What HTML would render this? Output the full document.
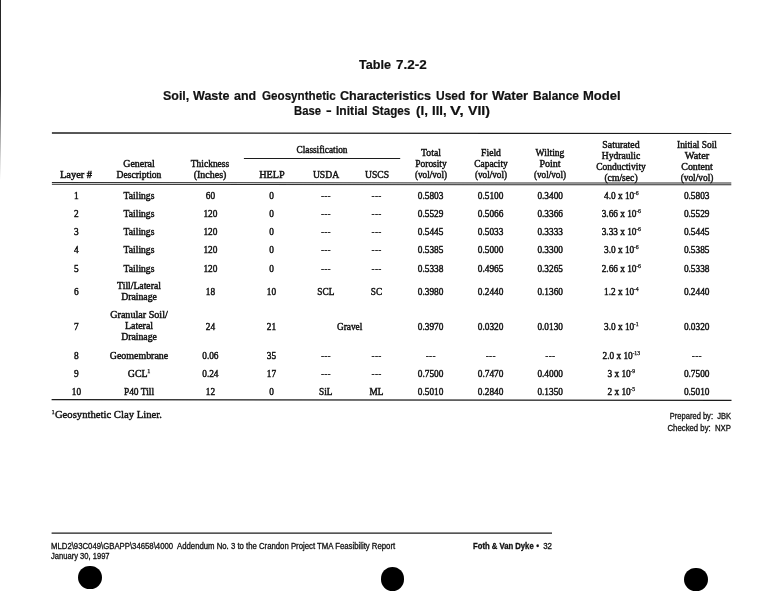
<!DOCTYPE html>
<html><head><meta charset="utf-8"><title>Table 7.2-2</title>
<style>
html,body{margin:0;padding:0;background:#fff;}
body{width:779px;height:600px;position:relative;overflow:hidden;color:#111;}
#pg{position:absolute;left:0;top:0;width:779px;height:600px;filter:blur(0.3px);}
.t{position:absolute;white-space:nowrap;line-height:12px;height:12px;}
.s{font-family:"Liberation Serif", serif;-webkit-text-stroke:0.42px #111;}
.b{font-family:"Liberation Sans", sans-serif;font-weight:bold;-webkit-text-stroke:0.2px #111;}
.n{font-family:"Liberation Sans", sans-serif;-webkit-text-stroke:0.3px #111;}
.d{-webkit-text-stroke:0.15px #111;letter-spacing:0.25px;margin-right:-0.25px;}
.c{transform:translateX(-50%);text-align:center;}
.r{transform:translateX(-100%);text-align:right;}
sup{font-size:62%;line-height:0;vertical-align:baseline;position:relative;top:-0.62em;margin-left:-0.4px;-webkit-text-stroke:0.25px #111;}
.ln{position:absolute;background:#1a1a1a;}
.dot{position:absolute;border-radius:50%;background:#000;}
</style></head><body><div id="pg">

<div class="ln" style="left:0;top:0;width:1.4px;height:180px;background:linear-gradient(to bottom,#222 0,#333 90px,#999 130px,#ddd 160px,#fff 180px)"></div>
<svg width="779" height="600" viewBox="0 0 779 600" style="position:absolute;left:0;top:0"><polygon points="51.90,132.20 731.30,132.97 731.30,134.03 51.90,133.80" fill="#1c1c1c"/><polygon points="243.90,157.88 400.20,157.88 400.20,158.93 243.90,158.93" fill="#1c1c1c"/><polygon points="51.90,182.10 731.30,182.60 731.30,183.60 51.90,183.10" fill="#2a2a2a"/><polygon points="51.90,183.85 731.30,184.35 731.30,185.35 51.90,184.85" fill="#2a2a2a"/><polygon points="51.60,398.95 731.50,399.68 731.50,400.93 51.60,400.25" fill="#1c1c1c"/><polygon points="51.60,532.62 552.00,532.62 552.00,533.78 51.60,533.78" fill="#1c1c1c"/></svg>
<div class="dot" style="left:78.2px;top:565.5px;width:23.5px;height:23.5px"></div>
<div class="dot" style="left:380.9px;top:567.0px;width:23.5px;height:23.5px"></div>
<div class="dot" style="left:684.0px;top:567.6px;width:23.5px;height:23.5px"></div>
<div class="t b " style="left:358.8px;top:59.00px;font-size:13.60px;transform:scaleX(0.928);transform-origin:left center;">Table</div>
<div class="t b " style="left:395.8px;top:59.00px;font-size:13.60px;transform:scaleX(0.991);transform-origin:left center;">7.2-2</div>
<div class="t b " style="left:163.2px;top:90.00px;font-size:13.60px;transform:scaleX(0.916);transform-origin:left center;">Soil,</div>
<div class="t b " style="left:193.4px;top:90.00px;font-size:13.60px;transform:scaleX(0.923);transform-origin:left center;">Waste</div>
<div class="t b " style="left:234.1px;top:90.00px;font-size:13.60px;transform:scaleX(0.914);transform-origin:left center;">and</div>
<div class="t b " style="left:261.6px;top:90.00px;font-size:13.60px;transform:scaleX(0.856);transform-origin:left center;">Geosynthetic</div>
<div class="t b " style="left:340.3px;top:90.00px;font-size:13.60px;transform:scaleX(0.926);transform-origin:left center;">Characteristics</div>
<div class="t b " style="left:435.8px;top:90.00px;font-size:13.60px;transform:scaleX(0.884);transform-origin:left center;">Used</div>
<div class="t b " style="left:470.4px;top:90.00px;font-size:13.60px;transform:scaleX(0.971);transform-origin:left center;">for</div>
<div class="t b " style="left:492.2px;top:90.00px;font-size:13.60px;transform:scaleX(0.971);transform-origin:left center;">Water</div>
<div class="t b " style="left:532.6px;top:90.00px;font-size:13.60px;transform:scaleX(0.882);transform-origin:left center;">Balance</div>
<div class="t b " style="left:583.2px;top:90.00px;font-size:13.60px;transform:scaleX(0.955);transform-origin:left center;">Model</div>
<div class="t b " style="left:294.0px;top:105.00px;font-size:13.60px;transform:scaleX(0.831);transform-origin:left center;">Base</div>
<div class="t b " style="left:325.5px;top:105.00px;font-size:13.60px;transform:scaleX(1.258);transform-origin:left center;">-</div>
<div class="t b " style="left:335.6px;top:105.00px;font-size:13.60px;transform:scaleX(0.890);transform-origin:left center;">Initial</div>
<div class="t b " style="left:372.1px;top:105.00px;font-size:13.60px;transform:scaleX(0.857);transform-origin:left center;">Stages</div>
<div class="t b " style="left:415.9px;top:105.00px;font-size:13.60px;transform:scaleX(0.984);transform-origin:left center;">(I,</div>
<div class="t b " style="left:431.7px;top:105.00px;font-size:13.60px;transform:scaleX(0.966);transform-origin:left center;">III,</div>
<div class="t b " style="left:449.8px;top:105.00px;font-size:13.60px;transform:scaleX(1.197);transform-origin:left center;">V,</div>
<div class="t b " style="left:468.2px;top:105.00px;font-size:13.60px;transform:scaleX(1.040);transform-origin:left center;">VII)</div>
<div class="t s c" style="left:76.4px;top:169.00px;font-size:9.30px;transform:translateX(-50%) scaleX(1.124);transform-origin:center center;">Layer #</div>
<div class="t s c" style="left:138.8px;top:158.00px;font-size:9.30px;transform:translateX(-50%) scaleX(1.067);transform-origin:center center;">General</div>
<div class="t s c" style="left:138.8px;top:169.00px;font-size:9.30px;transform:translateX(-50%) scaleX(1.033);transform-origin:center center;">Description</div>
<div class="t s c" style="left:210.4px;top:158.00px;font-size:9.30px;transform:translateX(-50%) scaleX(1.016);transform-origin:center center;">Thickness</div>
<div class="t s c" style="left:210.4px;top:169.00px;font-size:9.30px;transform:translateX(-50%) scaleX(1.073);transform-origin:center center;">(Inches)</div>
<div class="t s c" style="left:322.2px;top:144.00px;font-size:9.30px;transform:translateX(-50%) scaleX(0.996);transform-origin:center center;">Classification</div>
<div class="t s c" style="left:271.7px;top:169.00px;font-size:9.30px;transform:translateX(-50%) scaleX(1.097);transform-origin:center center;">HELP</div>
<div class="t s c" style="left:326.0px;top:169.00px;font-size:9.30px;transform:translateX(-50%) scaleX(1.035);transform-origin:center center;">USDA</div>
<div class="t s c" style="left:376.7px;top:169.00px;font-size:9.30px;transform:translateX(-50%) scaleX(1.032);transform-origin:center center;">USCS</div>
<div class="t s c" style="left:431.4px;top:147.00px;font-size:9.30px;transform:translateX(-50%) scaleX(1.048);transform-origin:center center;">Total</div>
<div class="t s c" style="left:430.8px;top:158.00px;font-size:9.30px;transform:translateX(-50%) scaleX(1.013);transform-origin:center center;">Porosity</div>
<div class="t s c" style="left:430.5px;top:169.00px;font-size:9.30px;transform:translateX(-50%) scaleX(0.986);transform-origin:center center;">(vol/vol)</div>
<div class="t s c" style="left:490.5px;top:147.00px;font-size:9.30px;transform:translateX(-50%) scaleX(1.035);transform-origin:center center;">Field</div>
<div class="t s c" style="left:490.9px;top:158.00px;font-size:9.30px;transform:translateX(-50%) scaleX(1.011);transform-origin:center center;">Capacity</div>
<div class="t s c" style="left:490.5px;top:169.00px;font-size:9.30px;transform:translateX(-50%) scaleX(0.986);transform-origin:center center;">(vol/vol)</div>
<div class="t s c" style="left:550.2px;top:147.00px;font-size:9.30px;transform:translateX(-50%) scaleX(1.027);transform-origin:center center;">Wilting</div>
<div class="t s c" style="left:550.2px;top:158.00px;font-size:9.30px;transform:translateX(-50%) scaleX(1.079);transform-origin:center center;">Point</div>
<div class="t s c" style="left:550.0px;top:169.00px;font-size:9.30px;transform:translateX(-50%) scaleX(0.986);transform-origin:center center;">(vol/vol)</div>
<div class="t s c" style="left:620.7px;top:139.00px;font-size:9.30px;transform:translateX(-50%) scaleX(1.062);transform-origin:center center;">Saturated</div>
<div class="t s c" style="left:621.2px;top:150.00px;font-size:9.30px;transform:translateX(-50%) scaleX(1.030);transform-origin:center center;">Hydraulic</div>
<div class="t s c" style="left:621.0px;top:161.00px;font-size:9.30px;transform:translateX(-50%) scaleX(1.021);transform-origin:center center;">Conductivity</div>
<div class="t s c" style="left:621.2px;top:172.00px;font-size:9.30px;transform:translateX(-50%) scaleX(1.037);transform-origin:center center;">(cm/sec)</div>
<div class="t s c" style="left:696.5px;top:139.00px;font-size:9.30px;transform:translateX(-50%) scaleX(1.010);transform-origin:center center;">Initial Soil</div>
<div class="t s c" style="left:697.0px;top:150.00px;font-size:9.30px;transform:translateX(-50%) scaleX(1.115);transform-origin:center center;">Water</div>
<div class="t s c" style="left:696.6px;top:161.00px;font-size:9.30px;transform:translateX(-50%) scaleX(1.066);transform-origin:center center;">Content</div>
<div class="t s c" style="left:696.7px;top:172.00px;font-size:9.30px;transform:translateX(-50%) scaleX(1.005);transform-origin:center center;">(vol/vol)</div>
<div class="t s c" style="left:76.4px;top:190.00px;font-size:9.30px;">1</div>
<div class="t s c" style="left:138.8px;top:190.00px;font-size:9.30px;transform:translateX(-50%) scaleX(1.033);transform-origin:center center;">Tailings</div>
<div class="t s c" style="left:210.4px;top:190.00px;font-size:9.30px;">60</div>
<div class="t s c" style="left:271.5px;top:190.00px;font-size:9.30px;">0</div>
<div class="t s c" style="left:325.8px;top:190.00px;font-size:9.30px;"><span class="d">---</span></div>
<div class="t s c" style="left:376.5px;top:190.00px;font-size:9.30px;"><span class="d">---</span></div>
<div class="t s c" style="left:430.6px;top:190.00px;font-size:9.30px;">0.5803</div>
<div class="t s c" style="left:490.6px;top:190.00px;font-size:9.30px;">0.5100</div>
<div class="t s c" style="left:550.2px;top:190.00px;font-size:9.30px;">0.3400</div>
<div class="t s c" style="left:621.3px;top:190.00px;font-size:9.30px;">4.0 x 10<sup>-6</sup></div>
<div class="t s c" style="left:696.7px;top:190.00px;font-size:9.30px;">0.5803</div>
<div class="t s c" style="left:76.4px;top:208.00px;font-size:9.30px;">2</div>
<div class="t s c" style="left:138.8px;top:208.00px;font-size:9.30px;transform:translateX(-50%) scaleX(1.033);transform-origin:center center;">Tailings</div>
<div class="t s c" style="left:210.4px;top:208.00px;font-size:9.30px;">120</div>
<div class="t s c" style="left:271.5px;top:208.00px;font-size:9.30px;">0</div>
<div class="t s c" style="left:325.8px;top:208.00px;font-size:9.30px;"><span class="d">---</span></div>
<div class="t s c" style="left:376.5px;top:208.00px;font-size:9.30px;"><span class="d">---</span></div>
<div class="t s c" style="left:430.6px;top:208.00px;font-size:9.30px;">0.5529</div>
<div class="t s c" style="left:490.6px;top:208.00px;font-size:9.30px;">0.5066</div>
<div class="t s c" style="left:550.2px;top:208.00px;font-size:9.30px;">0.3366</div>
<div class="t s c" style="left:621.3px;top:208.00px;font-size:9.30px;">3.66 x 10<sup>-6</sup></div>
<div class="t s c" style="left:696.7px;top:208.00px;font-size:9.30px;">0.5529</div>
<div class="t s c" style="left:76.4px;top:226.00px;font-size:9.30px;">3</div>
<div class="t s c" style="left:138.8px;top:226.00px;font-size:9.30px;transform:translateX(-50%) scaleX(1.033);transform-origin:center center;">Tailings</div>
<div class="t s c" style="left:210.4px;top:226.00px;font-size:9.30px;">120</div>
<div class="t s c" style="left:271.5px;top:226.00px;font-size:9.30px;">0</div>
<div class="t s c" style="left:325.8px;top:226.00px;font-size:9.30px;"><span class="d">---</span></div>
<div class="t s c" style="left:376.5px;top:226.00px;font-size:9.30px;"><span class="d">---</span></div>
<div class="t s c" style="left:430.6px;top:226.00px;font-size:9.30px;">0.5445</div>
<div class="t s c" style="left:490.6px;top:226.00px;font-size:9.30px;">0.5033</div>
<div class="t s c" style="left:550.2px;top:226.00px;font-size:9.30px;">0.3333</div>
<div class="t s c" style="left:621.3px;top:226.00px;font-size:9.30px;">3.33 x 10<sup>-6</sup></div>
<div class="t s c" style="left:696.7px;top:226.00px;font-size:9.30px;">0.5445</div>
<div class="t s c" style="left:76.4px;top:244.00px;font-size:9.30px;">4</div>
<div class="t s c" style="left:138.8px;top:244.00px;font-size:9.30px;transform:translateX(-50%) scaleX(1.033);transform-origin:center center;">Tailings</div>
<div class="t s c" style="left:210.4px;top:244.00px;font-size:9.30px;">120</div>
<div class="t s c" style="left:271.5px;top:244.00px;font-size:9.30px;">0</div>
<div class="t s c" style="left:325.8px;top:244.00px;font-size:9.30px;"><span class="d">---</span></div>
<div class="t s c" style="left:376.5px;top:244.00px;font-size:9.30px;"><span class="d">---</span></div>
<div class="t s c" style="left:430.6px;top:244.00px;font-size:9.30px;">0.5385</div>
<div class="t s c" style="left:490.6px;top:244.00px;font-size:9.30px;">0.5000</div>
<div class="t s c" style="left:550.2px;top:244.00px;font-size:9.30px;">0.3300</div>
<div class="t s c" style="left:621.3px;top:244.00px;font-size:9.30px;">3.0 x 10<sup>-6</sup></div>
<div class="t s c" style="left:696.7px;top:244.00px;font-size:9.30px;">0.5385</div>
<div class="t s c" style="left:76.4px;top:263.00px;font-size:9.30px;">5</div>
<div class="t s c" style="left:138.8px;top:263.00px;font-size:9.30px;transform:translateX(-50%) scaleX(1.033);transform-origin:center center;">Tailings</div>
<div class="t s c" style="left:210.4px;top:263.00px;font-size:9.30px;">120</div>
<div class="t s c" style="left:271.5px;top:263.00px;font-size:9.30px;">0</div>
<div class="t s c" style="left:325.8px;top:263.00px;font-size:9.30px;"><span class="d">---</span></div>
<div class="t s c" style="left:376.5px;top:263.00px;font-size:9.30px;"><span class="d">---</span></div>
<div class="t s c" style="left:430.6px;top:263.00px;font-size:9.30px;">0.5338</div>
<div class="t s c" style="left:490.6px;top:263.00px;font-size:9.30px;">0.4965</div>
<div class="t s c" style="left:550.2px;top:263.00px;font-size:9.30px;">0.3265</div>
<div class="t s c" style="left:621.3px;top:263.00px;font-size:9.30px;">2.66 x 10<sup>-6</sup></div>
<div class="t s c" style="left:696.7px;top:263.00px;font-size:9.30px;">0.5338</div>
<div class="t s c" style="left:76.4px;top:286.00px;font-size:9.30px;">6</div>
<div class="t s c" style="left:138.8px;top:280.00px;font-size:9.30px;transform:translateX(-50%) scaleX(1.042);transform-origin:center center;">Till/Lateral</div>
<div class="t s c" style="left:138.8px;top:291.00px;font-size:9.30px;transform:translateX(-50%) scaleX(1.048);transform-origin:center center;">Drainage</div>
<div class="t s c" style="left:210.4px;top:286.00px;font-size:9.30px;">18</div>
<div class="t s c" style="left:271.5px;top:286.00px;font-size:9.30px;">10</div>
<div class="t s c" style="left:325.8px;top:286.00px;font-size:9.30px;">SCL</div>
<div class="t s c" style="left:376.5px;top:286.00px;font-size:9.30px;">SC</div>
<div class="t s c" style="left:430.6px;top:286.00px;font-size:9.30px;">0.3980</div>
<div class="t s c" style="left:490.6px;top:286.00px;font-size:9.30px;">0.2440</div>
<div class="t s c" style="left:550.2px;top:286.00px;font-size:9.30px;">0.1360</div>
<div class="t s c" style="left:621.3px;top:286.00px;font-size:9.30px;">1.2 x 10<sup>-4</sup></div>
<div class="t s c" style="left:696.7px;top:286.00px;font-size:9.30px;">0.2440</div>
<div class="t s c" style="left:76.4px;top:321.00px;font-size:9.30px;">7</div>
<div class="t s c" style="left:138.8px;top:309.00px;font-size:9.30px;transform:translateX(-50%) scaleX(1.088);transform-origin:center center;">Granular Soil/</div>
<div class="t s c" style="left:138.8px;top:320.00px;font-size:9.30px;transform:translateX(-50%) scaleX(1.067);transform-origin:center center;">Lateral</div>
<div class="t s c" style="left:138.8px;top:331.00px;font-size:9.30px;transform:translateX(-50%) scaleX(1.048);transform-origin:center center;">Drainage</div>
<div class="t s c" style="left:210.4px;top:321.00px;font-size:9.30px;">24</div>
<div class="t s c" style="left:271.5px;top:321.00px;font-size:9.30px;">21</div>
<div class="t s c" style="left:349.6px;top:321.00px;font-size:9.30px;">Gravel</div>
<div class="t s c" style="left:430.6px;top:321.00px;font-size:9.30px;">0.3970</div>
<div class="t s c" style="left:490.6px;top:321.00px;font-size:9.30px;">0.0320</div>
<div class="t s c" style="left:550.2px;top:321.00px;font-size:9.30px;">0.0130</div>
<div class="t s c" style="left:621.3px;top:321.00px;font-size:9.30px;">3.0 x 10<sup>-1</sup></div>
<div class="t s c" style="left:696.7px;top:321.00px;font-size:9.30px;">0.0320</div>
<div class="t s c" style="left:76.4px;top:350.00px;font-size:9.30px;">8</div>
<div class="t s c" style="left:138.8px;top:350.00px;font-size:9.30px;transform:translateX(-50%) scaleX(1.067);transform-origin:center center;">Geomembrane</div>
<div class="t s c" style="left:210.4px;top:350.00px;font-size:9.30px;">0.06</div>
<div class="t s c" style="left:271.5px;top:350.00px;font-size:9.30px;">35</div>
<div class="t s c" style="left:325.8px;top:350.00px;font-size:9.30px;"><span class="d">---</span></div>
<div class="t s c" style="left:376.5px;top:350.00px;font-size:9.30px;"><span class="d">---</span></div>
<div class="t s c" style="left:430.6px;top:350.00px;font-size:9.30px;"><span class="d">---</span></div>
<div class="t s c" style="left:490.6px;top:350.00px;font-size:9.30px;"><span class="d">---</span></div>
<div class="t s c" style="left:550.2px;top:350.00px;font-size:9.30px;"><span class="d">---</span></div>
<div class="t s c" style="left:621.3px;top:350.00px;font-size:9.30px;">2.0 x 10<sup>-13</sup></div>
<div class="t s c" style="left:696.7px;top:350.00px;font-size:9.30px;"><span class="d">---</span></div>
<div class="t s c" style="left:76.4px;top:368.00px;font-size:9.30px;">9</div>
<div class="t s c" style="left:138.8px;top:368.00px;font-size:9.30px;transform:translateX(-50%) scaleX(1.062);transform-origin:center center;">GCL<sup>1</sup></div>
<div class="t s c" style="left:210.4px;top:368.00px;font-size:9.30px;">0.24</div>
<div class="t s c" style="left:271.5px;top:368.00px;font-size:9.30px;">17</div>
<div class="t s c" style="left:325.8px;top:368.00px;font-size:9.30px;"><span class="d">---</span></div>
<div class="t s c" style="left:376.5px;top:368.00px;font-size:9.30px;"><span class="d">---</span></div>
<div class="t s c" style="left:430.6px;top:368.00px;font-size:9.30px;">0.7500</div>
<div class="t s c" style="left:490.6px;top:368.00px;font-size:9.30px;">0.7470</div>
<div class="t s c" style="left:550.2px;top:368.00px;font-size:9.30px;">0.4000</div>
<div class="t s c" style="left:621.3px;top:368.00px;font-size:9.30px;">3 x 10<sup>-9</sup></div>
<div class="t s c" style="left:696.7px;top:368.00px;font-size:9.30px;">0.7500</div>
<div class="t s c" style="left:76.4px;top:386.00px;font-size:9.30px;">10</div>
<div class="t s c" style="left:138.8px;top:386.00px;font-size:9.30px;transform:translateX(-50%) scaleX(1.016);transform-origin:center center;">P40 Till</div>
<div class="t s c" style="left:210.4px;top:386.00px;font-size:9.30px;">12</div>
<div class="t s c" style="left:271.5px;top:386.00px;font-size:9.30px;">0</div>
<div class="t s c" style="left:325.8px;top:386.00px;font-size:9.30px;">SiL</div>
<div class="t s c" style="left:376.5px;top:386.00px;font-size:9.30px;">ML</div>
<div class="t s c" style="left:430.6px;top:386.00px;font-size:9.30px;">0.5010</div>
<div class="t s c" style="left:490.6px;top:386.00px;font-size:9.30px;">0.2840</div>
<div class="t s c" style="left:550.2px;top:386.00px;font-size:9.30px;">0.1350</div>
<div class="t s c" style="left:621.3px;top:386.00px;font-size:9.30px;">2 x 10<sup>-5</sup></div>
<div class="t s c" style="left:696.7px;top:386.00px;font-size:9.30px;">0.5010</div>
<div class="t s " style="left:52.0px;top:408.00px;font-size:10.80px;transform:scaleX(0.988);transform-origin:left center;"><sup>1</sup>Geosynthetic Clay Liner.</div>
<div class="t n r" style="left:731.4px;top:410.00px;font-size:8.40px;transform:translateX(-100%) scaleX(0.900);transform-origin:right center;">Prepared by:&nbsp; JBK</div>
<div class="t n r" style="left:731.4px;top:422.00px;font-size:8.40px;transform:translateX(-100%) scaleX(0.928);transform-origin:right center;">Checked by:&nbsp; NXP</div>
<div class="t n " style="left:50.8px;top:541.00px;font-size:8.20px;transform:scaleX(0.948);transform-origin:left center;">MLD2\93C049\GBAPP\34658\4000&nbsp; Addendum No. 3 to the Crandon Project TMA Feasibility Report</div>
<div class="t n " style="left:50.8px;top:551.00px;font-size:8.20px;transform:scaleX(0.926);transform-origin:left center;">January 30, 1997</div>
<div class="t n " style="left:472.6px;top:541.00px;font-size:8.20px;transform:scaleX(0.939);transform-origin:left center;"><b>Foth &amp; Van Dyke</b></div>
<div class="t n c" style="left:537.8px;top:541.00px;font-size:8.20px;">&bull;</div>
<div class="t n r" style="left:552.0px;top:541.00px;font-size:8.20px;transform:translateX(-100%) scaleX(0.966);transform-origin:right center;">32</div>
</div></body></html>
